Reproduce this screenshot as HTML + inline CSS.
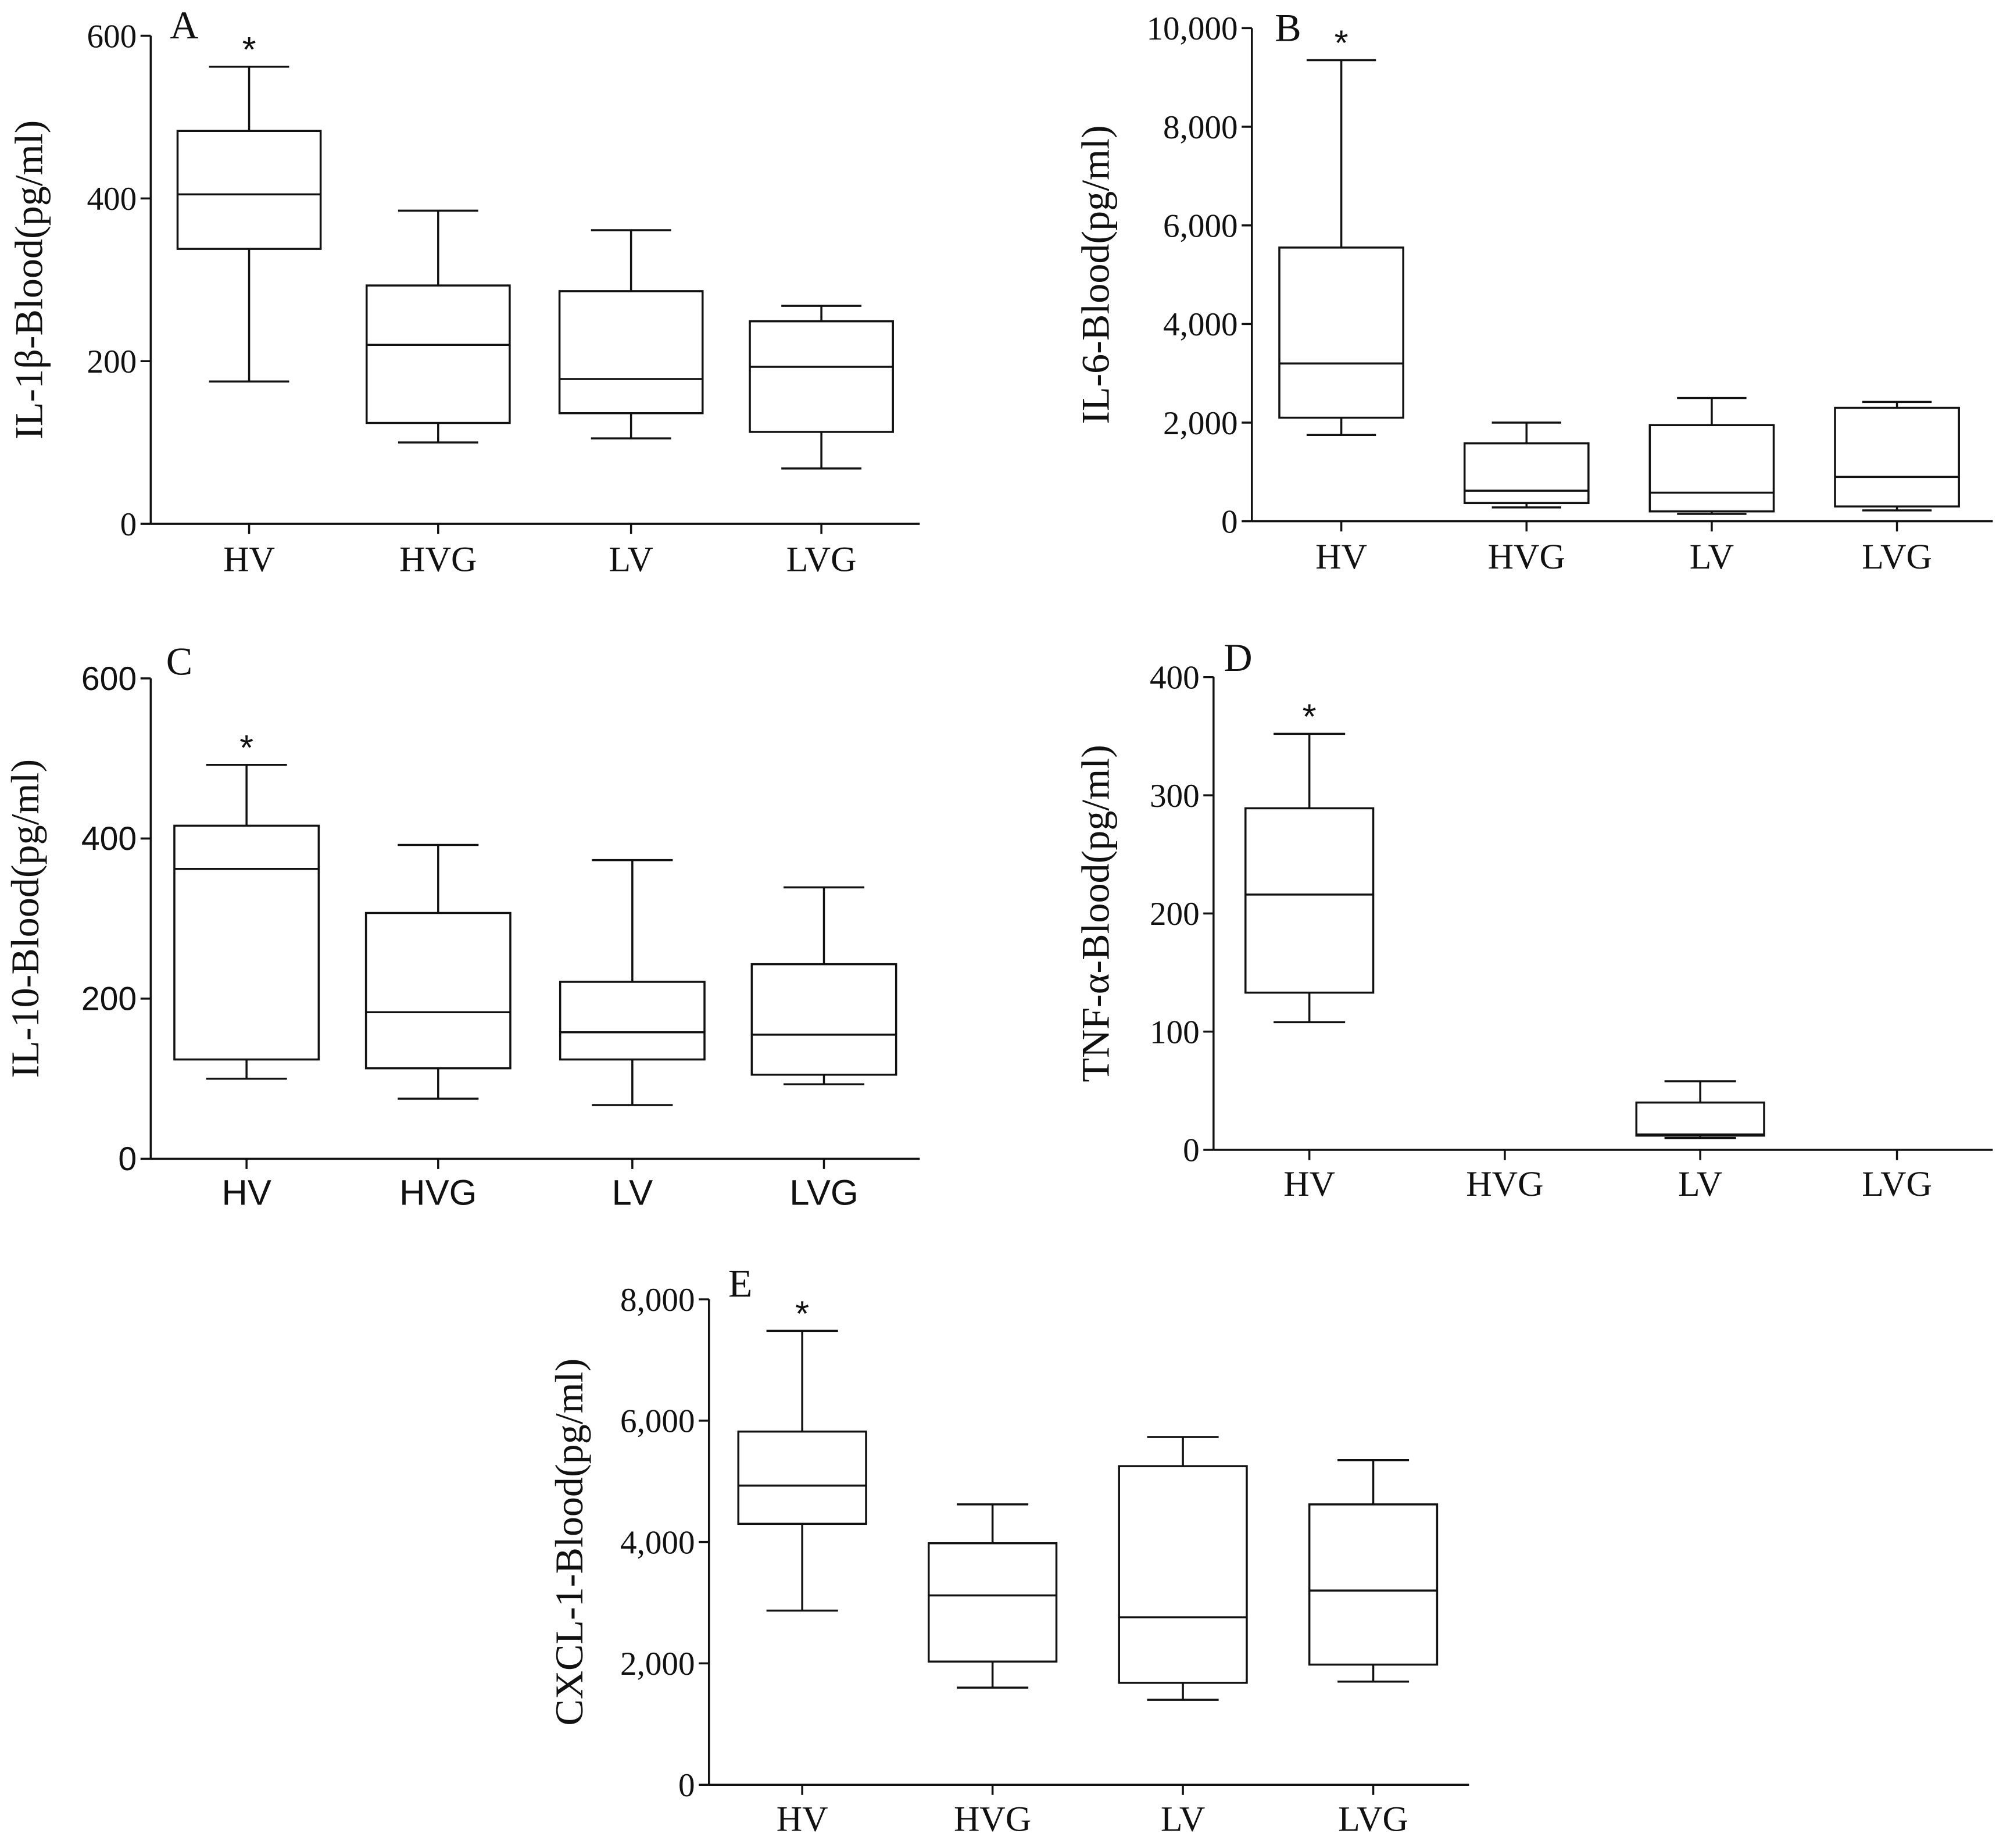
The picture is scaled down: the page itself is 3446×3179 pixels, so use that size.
<!DOCTYPE html>
<html><head><meta charset="utf-8"><style>html,body{margin:0;padding:0;background:#fff}svg{display:block}</style></head>
<body>
<svg id="fig" width="3446" height="3179" viewBox="0 0 1568 1446.5" xmlns="http://www.w3.org/2000/svg"></svg>
<script>
const categories = ["HV","HVG","LV","LVG"];
// [min, q1, median, q3, max]
const il1bValues = [[175,338,405,483,562],[100,124,220,293,385],[105,136,178,286,361],[68,113,193,249,268]];
const il6Values = [[1750,2100,3200,5550,9350],[280,370,620,1580,2000],[150,200,580,1950,2500],[220,300,900,2300,2420]];
const il10Values = [[100,124,362,416,492],[75,113,183,307,392],[67,124,158,221,373],[93,105,155,243,339]];
const tnfValues = [[108,133,216,289,352],null,[10,12,13,40,58],null];
const cxclValues = [[2870,4300,4930,5820,7480],[1600,2030,3120,3980,4620],[1400,1680,2760,5250,5730],[1700,1980,3200,4620,5350]];
const il1bTicks = ["0","200","400","600"];
const il6Ticks = ["0","2,000","4,000","6,000","8,000","10,000"];
const il10Ticks = ["0","200","400","600"];
const tnfTicks = ["0","100","200","300","400"];
const cxclTicks = ["0","2,000","4,000","6,000","8,000"];

const NS="http://www.w3.org/2000/svg";
const svg=document.getElementById('fig');
function mk(tag,attrs,parent){const e=document.createElementNS(NS,tag);for(const k in attrs)e.setAttribute(k,attrs[k]);parent.appendChild(e);return e;}

const panels=[
 {id:"a",letter:"A",title:"IL-1β-Blood(pg/ml)",data:il1bValues,ticks:il1bTicks,max:600,ax:118,y0:410,y1:28,xEnd:720,cx:[195,343,494,643],bw:112,font:"Liberation Serif",catY:447,lx:33,letX:133,letY:30},
 {id:"b",letter:"B",title:"IL-6-Blood(pg/ml)",data:il6Values,ticks:il6Ticks,max:10000,ax:980,y0:408,y1:22,xEnd:1560,cx:[1050,1195,1340,1485],bw:97,font:"Liberation Serif",catY:445,lx:868,letX:998,letY:32},
 {id:"c",letter:"C",title:"IL-10-Blood(pg/ml)",data:il10Values,ticks:il10Ticks,max:600,ax:118,y0:907,y1:531,xEnd:720,cx:[193,343,495,645],bw:113,font:"Liberation Sans",catY:943,lx:30,letX:130,letY:528},
 {id:"d",letter:"D",title:"TNF-α-Blood(pg/ml)",data:tnfValues,ticks:tnfTicks,max:400,ax:950,y0:900,y1:530,xEnd:1560,cx:[1025,1178,1331,1485],bw:100,font:"Liberation Serif",catY:936,lx:868,letX:958,letY:525},
 {id:"e",letter:"E",title:"CXCL-1-Blood(pg/ml)",data:cxclValues,ticks:cxclTicks,max:8000,ax:555,y0:1397,y1:1017,xEnd:1150,cx:[628,777,926,1075],bw:100,font:"Liberation Serif",catY:1433,lx:456,letX:570,letY:1015}
];
const st={stroke:"#111","stroke-width":1.6,fill:"none"};
panels.forEach(p=>{
 const g=mk('g',{},svg);
 
 
 const y=v=>p.y0-(v/p.max)*(p.y0-p.y1);
 const ya=mk('line',Object.assign({x1:p.ax,y1:p.y1,x2:p.ax,y2:p.y0},st),g);
 
 
 const xa=mk('line',Object.assign({x1:p.ax,y1:p.y0,x2:p.xEnd,y2:p.y0},st),g);
 
 
 const n=p.ticks.length-1;
 p.ticks.forEach((t,i)=>{
  const v=p.max*i/n, yy=y(v);
  mk('line',Object.assign({x1:p.ax-8,y1:yy,x2:p.ax,y2:yy},st),g);
  const tx=mk('text',{x:p.ax-11,y:yy+9,"text-anchor":"end","font-family":p.font+", sans-serif","font-size":26,fill:"#111"},g);
  tx.textContent=t;
  
  
 });
 categories.forEach((c,i)=>{
  const x=p.cx[i];
  mk('line',Object.assign({x1:x,y1:p.y0,x2:x,y2:p.y0+8},st),g);
  const tx=mk('text',{x:x,y:p.catY,"text-anchor":"middle","font-family":p.font+", sans-serif","font-size":28,fill:"#111"},g);
  tx.textContent=c;
  
  
  const d=p.data[i]; if(!d) return;
  const bg=mk('g',{},g);
  
  
  const hw=p.bw/2, cw=p.bw*0.28;
  mk('line',Object.assign({x1:x,y1:y(d[0]),x2:x,y2:y(d[1])},st),bg);
  mk('line',Object.assign({x1:x,y1:y(d[3]),x2:x,y2:y(d[4])},st),bg);
  mk('line',Object.assign({x1:x-cw,y1:y(d[0]),x2:x+cw,y2:y(d[0])},st),bg);
  mk('line',Object.assign({x1:x-cw,y1:y(d[4]),x2:x+cw,y2:y(d[4])},st),bg);
  mk('rect',Object.assign({x:x-hw,y:y(d[3]),width:p.bw,height:y(d[1])-y(d[3])},st),bg);
  mk('line',Object.assign({x1:x-hw,y1:y(d[2]),x2:x+hw,y2:y(d[2])},st),bg);
  if(i===0){
   const as=mk('text',{x:x,y:y(d[4])-4,"text-anchor":"middle","font-family":"Liberation Sans, sans-serif","font-size":28,fill:"#111"},g);
   as.textContent="*";
   
   
  }
 });
 const lt=mk('text',{x:p.letX,y:p.letY,"font-family":"Liberation Serif, serif","font-size":31,fill:"#111"},g);
 lt.textContent=p.letter;
 
 
 const my=(p.y0+p.y1)/2;
 const yt=mk('text',{x:p.lx,y:my,"text-anchor":"middle","font-family":"Liberation Serif, serif","font-size":31,fill:"#111",transform:`rotate(-90 ${p.lx} ${my})`},g);
 yt.textContent=p.title;
 
 
});
</script>
</body></html>
